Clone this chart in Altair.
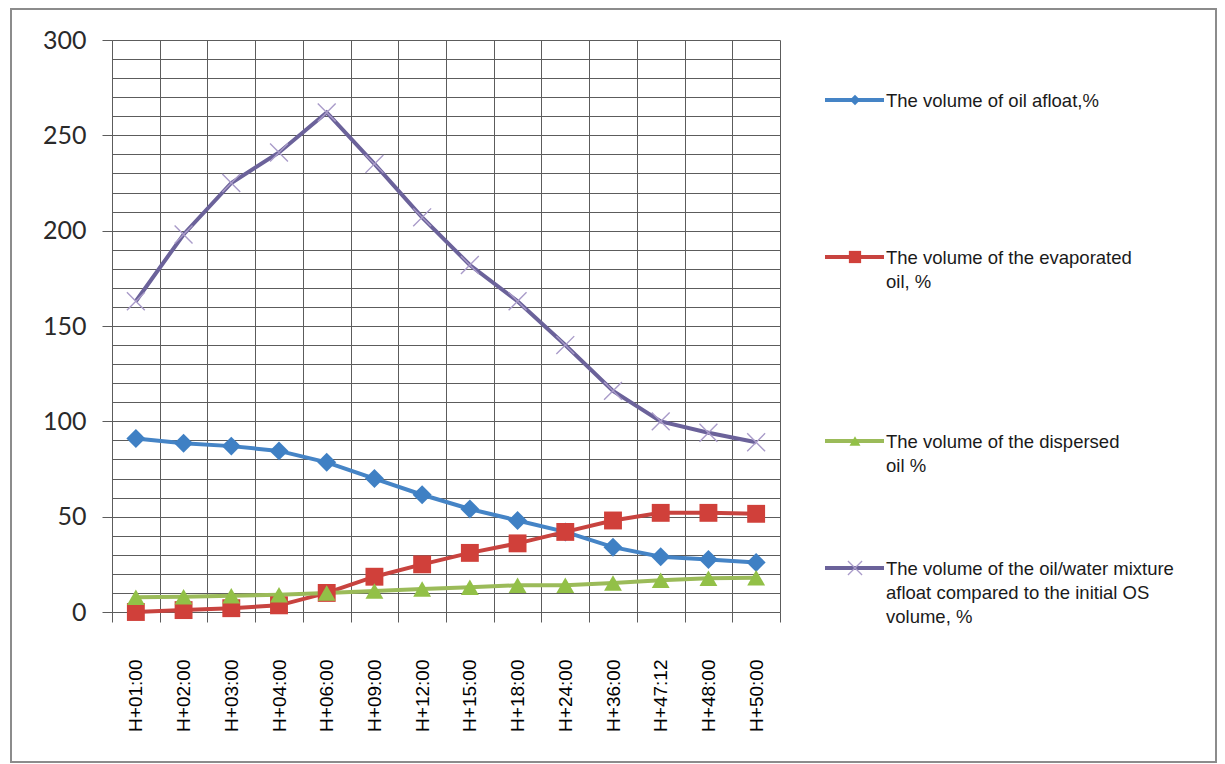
import altair as alt
import pandas as pd

# ---- data ----
times = ["H+01:00", "H+02:00", "H+03:00", "H+04:00", "H+06:00", "H+09:00", "H+12:00",
         "H+15:00", "H+18:00", "H+24:00", "H+36:00", "H+47:12", "H+48:00", "H+50:00"]
afloat = [91, 88.5, 87, 84.5, 78.5, 70, 61.5, 54, 48, 42, 34, 29, 27.5, 26]
evaporated = [0, 1, 2, 3.5, 10, 18.5, 25, 31, 36, 42, 48, 52, 52, 51.5]
dispersed = [7.7, 8, 8.5, 9, 10, 11, 12, 13, 14, 14, 15.2, 16.7, 17.7, 18]
mixture = [163, 198, 225, 241, 262, 235, 207, 182, 163, 140, 116, 100, 94, 89]

labels = [
    "The volume of oil afloat,%",
    "The volume of the evaporated\noil, %",
    "The volume of the dispersed\noil %",
    "The volume of the oil/water mixture\nafloat compared to the initial OS\nvolume, %",
]
series_values = [afloat, evaporated, dispersed, mixture]

# ---- styles / layout ----
line_colors = ["#4584C6", "#C8433F", "#9BBB59", "#6B629A"]
marker_colors = ["#3F80C4", "#D0403A", "#92C047", "#A99BC9"]
shapes = ["diamond", "square", "triangle-up", "M-1,-1L1,1M-1,1L1,-1"]
sizes = [360, 320, 320, 320]
legend_sizes = [110, 150, 120, 200]
W, H = 668, 572
LW = 437
legend_rows_y = [60, 217, 401, 528]
FONT = "Liberation Sans"
GRID = "#5c5c5c"

df = pd.DataFrame(
    [{"time": t, "value": v, "series": lab, "order": i}
     for lab, vals in zip(labels, series_values) for i, (t, v) in enumerate(zip(times, vals))]
)

x_enc = alt.X(
    "time:N", sort=times,
    scale=alt.Scale(type="band", paddingInner=0, paddingOuter=0),
    axis=alt.Axis(
        title=None, tickBand="extent", grid=True, gridColor=GRID, gridWidth=1,
        tickSize=10, tickColor=GRID, domainColor=GRID, domainWidth=1,
        labelAngle=-90, labelFontSize=19, labelFont=FONT, labelColor="#000000",
        labelPadding=37,
    ),
)
y_enc = alt.Y(
    "value:Q",
    scale=alt.Scale(domain=[0, 300], nice=False, zero=True),
    axis=alt.Axis(
        title=None, values=list(range(0, 301, 10)),
        labelExpr="datum.value % 50 === 0 ? datum.label : ''",
        tickOpacity={"condition": {"test": "datum.value % 50 === 0", "value": 1}, "value": 0},
        tickSize=10, tickColor=GRID, domainColor=GRID, domainWidth=1,
        grid=True, gridColor=GRID, gridWidth=1,
        labelFont="Lato", labelFontSize=25, labelColor="#2a2a2a", labelPadding=16,
    ),
)

layers = []
for i, lab in enumerate(labels):
    base = alt.Chart(df).transform_filter(alt.datum.series == lab)
    layers.append(base.mark_line(color=line_colors[i], strokeWidth=4).encode(x=x_enc, y=y_enc, order="order:Q"))
for i, lab in enumerate(labels):
    base = alt.Chart(df).transform_filter(alt.datum.series == lab)
    if i == 3:
        pts = base.mark_point(shape=shapes[i], filled=False, size=sizes[i],
                              color=marker_colors[i], strokeWidth=1.4, opacity=1)
    else:
        pts = base.mark_point(shape=shapes[i], filled=True, size=sizes[i],
                              color=marker_colors[i], opacity=1)
    layers.append(pts.encode(x=x_enc, y=y_enc))

main = alt.layer(*layers).properties(width=W, height=H)

# ---- legend panel ----
leg_df = pd.DataFrame({"label": labels, "ly": legend_rows_y, "idx": list(range(4))})
ly = alt.Y("ly:Q", scale=alt.Scale(domain=[0, H], range=[0, H]), axis=None)
leg_layers = []
# outer chart frame (decoration)
leg_layers.append(
    alt.Chart(leg_df).transform_filter(alt.datum.idx == 0)
    .mark_rect(fillOpacity=0, stroke="#8c8c8c", strokeWidth=2)
    .encode(x=alt.value(-769), x2=alt.value(436), y=alt.value(-31), y2=alt.value(722))
)
for i, lab in enumerate(labels):
    b = alt.Chart(leg_df).transform_filter(alt.datum.idx == i)
    leg_layers.append(b.mark_rule(color=line_colors[i], strokeWidth=4).encode(
        x=alt.value(45), x2=alt.value(104), y=ly))
    if i == 3:
        m = b.mark_point(shape=shapes[i], filled=False, size=legend_sizes[i], color=marker_colors[i],
                         strokeWidth=1.3, opacity=1)
    else:
        m = b.mark_point(shape=shapes[i], filled=True, size=legend_sizes[i], color=marker_colors[i], opacity=1)
    leg_layers.append(m.encode(x=alt.value(75), y=ly))
leg_layers.append(
    alt.Chart(leg_df).mark_text(align="left", baseline="alphabetic", dy=6.5, lineBreak="\n",
                                 fontSize=18.5, font=FONT, color="#1a1a1a", lineHeight=24)
    .encode(x=alt.value(106), y=ly, text="label:N")
)
legend = alt.layer(*leg_layers).properties(width=LW, height=H)

chart = (
    alt.hconcat(main, legend, spacing=0, bounds="flush")
    .properties(padding={"left": 2, "top": 0, "right": 0, "bottom": 0}, background="white")
    .configure_view(stroke=None)
)

chart.save("out.html", embed_options={"renderer": "svg", "actions": False})
